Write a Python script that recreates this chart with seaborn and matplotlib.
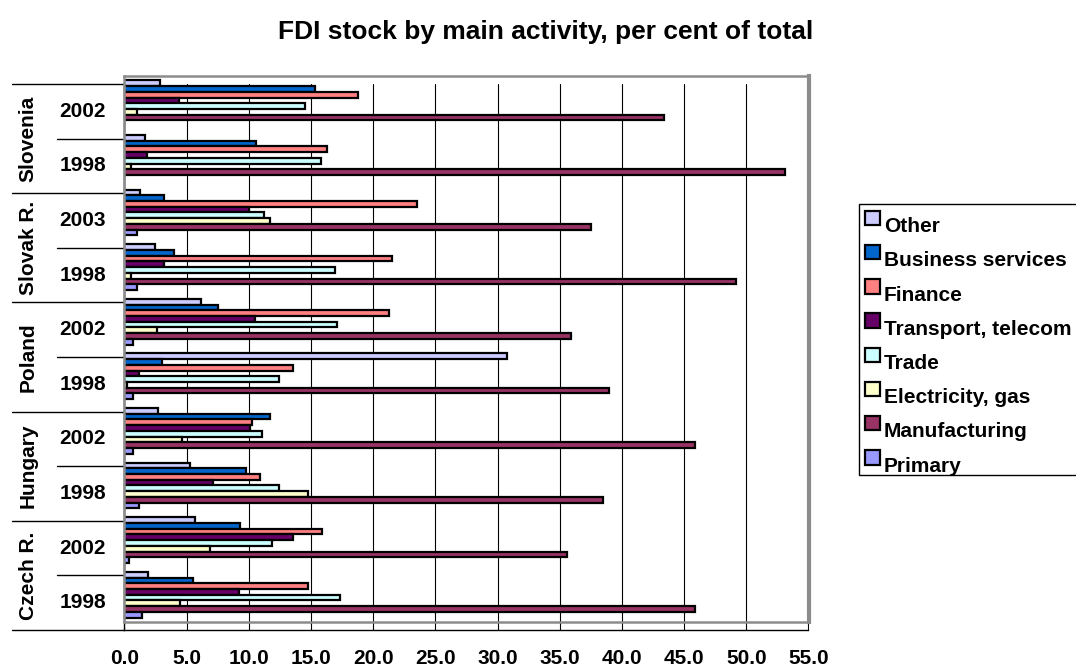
import numpy as np
import pandas as pd
import matplotlib
matplotlib.use("Agg")
import matplotlib.pyplot as plt
import seaborn as sns
from matplotlib.patches import Patch
from matplotlib.transforms import blended_transform_factory
from matplotlib.ticker import FormatStrFormatter

# ---------------- data ----------------
title = "FDI stock by main activity, per cent of total"
countries = ["Slovenia", "Slovak R.", "Poland", "Hungary", "Czech R."]
years = [["2002", "1998"], ["2003", "1998"], ["2002", "1998"], ["2002", "1998"], ["2002", "1998"]]
activities = ["Other", "Business services", "Finance", "Transport, telecom",
              "Trade", "Electricity, gas", "Manufacturing", "Primary"]
colors = ["#CCCCFF", "#0066CC", "#FF8080", "#660066",
          "#CCFFFF", "#FFFFCC", "#993366", "#9999FF"]

# values per group, top to bottom: Slo02, Slo98, Svk03, Svk98, Pol02, Pol98, Hun02, Hun98, Cze02, Cze98
other         = [2.9, 1.7, 1.3, 2.5, 6.2, 30.8, 2.7, 5.3, 5.7, 1.9]
business      = [15.3, 10.6, 3.2, 4.0, 7.5, 3.0, 11.7, 9.8, 9.3, 5.5]
finance       = [18.8, 16.3, 23.5, 21.5, 21.3, 13.6, 10.3, 10.9, 15.9, 14.8]
transport     = [4.4, 1.8, 10.0, 3.2, 10.5, 1.2, 10.1, 7.1, 13.6, 9.2]
trade         = [14.5, 15.8, 11.2, 16.9, 17.1, 12.4, 11.1, 12.4, 11.9, 17.3]
electricity   = [1.0, 0.5, 11.7, 0.5, 2.6, 0.2, 4.6, 14.8, 6.9, 4.5]
manufacturing = [43.4, 53.1, 37.5, 49.2, 35.9, 39.0, 45.9, 38.5, 35.6, 45.9]
primary       = [0.0, 0.0, 1.0, 1.0, 0.7, 0.7, 0.7, 1.2, 0.4, 1.4]
x_ticks = [0, 5, 10, 15, 20, 25, 30, 35, 40, 45, 50, 55]

series = [other, business, finance, transport, trade, electricity, manufacturing, primary]
groups = [f"{c} {y}" for c, ys in zip(countries, years) for y in ys]
rows = [(g, a, v) for a, vals in zip(activities, series) for g, v in zip(groups, vals)]
df = pd.DataFrame(rows, columns=["group", "activity", "value"])

# ---------------- style ----------------
sns.set_style("white")
plt.rcParams["font.family"] = ["Liberation Sans", "DejaVu Sans"]
plt.rcParams["font.weight"] = "bold"
plt.rcParams["text.color"] = "black"
plt.rcParams["xtick.color"] = "black"
plt.rcParams["ytick.color"] = "black"
plt.rcParams["axes.labelcolor"] = "black"

W, H = 1076, 670
fig = plt.figure(figsize=(W / 100, H / 100), dpi=100)
fig.patch.set_facecolor("white")

def fx(px):
    return px / W

def fy(py):
    return 1 - py / H

X0, X1 = 124.3, 808.5
# axis / grid layer (offset 8 px below the frame, as in the original)
ax2 = fig.add_axes([fx(X0), fy(630), (X1 - X0) / W, (630 - 84) / H])
ax2.set_zorder(0)
# bar layer with grey frame
ax = fig.add_axes([fx(X0), fy(622), (X1 - X0) / W, (622 - 76) / H], sharex=ax2)
ax.set_zorder(1)
ax.patch.set_alpha(0)

sns.barplot(data=df, x="value", y="group", hue="activity", order=groups,
            hue_order=activities, palette=colors, orient="h", width=0.84,
            edgecolor="black", linewidth=1.6, errorbar=None, saturation=1,
            legend=False, ax=ax)

ax.set_xlim(0, 55)
ax.set_ylim(len(groups) - 0.5, -0.5)
ax.set_xlabel("")
ax.set_ylabel("")
ax.tick_params(axis="both", which="both", left=False, bottom=False,
               labelleft=False, labelbottom=False)
for s in ax.spines.values():
    s.set_color("#8c8c8c")
    s.set_linewidth(1.8)
ax.spines["right"].set_linewidth(3)

# grid / x axis
ax2.set_ylim(len(groups) - 0.5, -0.5)
ax2.set_xticks(x_ticks)
ax2.xaxis.set_major_formatter(FormatStrFormatter("%.1f"))
ax2.tick_params(axis="x", direction="out", length=6, width=1, color="black",
                labelcolor="black", pad=8, labelsize=15)
ax2.set_yticks([])
ax2.grid(axis="x", color="black", linewidth=0.8)
ax2.spines["top"].set_visible(False)
ax2.spines["right"].set_visible(False)
for side in ("left", "bottom"):
    ax2.spines[side].set_color("black")
    ax2.spines[side].set_linewidth(1)
for lbl in ax2.get_xticklabels():
    lbl.set_fontweight("bold")

# two-level category labels on the left
trans = blended_transform_factory(fig.transFigure, ax2.transData)
for i, c in enumerate(countries):
    ax2.text(fx(28), 2 * i + 0.5, c, transform=trans, rotation=90,
             ha="center", va="center", fontsize=15, fontweight="bold", color="black")
    for j, y in enumerate(years[i]):
        ax2.text(fx(83), 2 * i + j, y, transform=trans, ha="center",
                 va="center", fontsize=15, fontweight="bold", color="black")
for k in range(len(countries) + 1):
    yy = 2 * k - 0.5
    ax2.plot([fx(12), fx(X0)], [yy, yy], transform=trans, color="black",
             lw=1, clip_on=False)
for k in range(len(countries)):
    yy = 2 * k + 0.5
    ax2.plot([fx(57), fx(X0)], [yy, yy], transform=trans, color="black",
             lw=1, clip_on=False)

# title
fig.text(fx(546), fy(32), title, ha="center", va="center",
         fontsize=19, fontweight="bold", color="black")

# legend
handles = [Patch(facecolor=c, edgecolor="black", linewidth=1.6) for c in colors]
leg = fig.legend(handles, activities, loc="upper left",
                 bbox_to_anchor=(fx(859), fy(204)), bbox_transform=fig.transFigure,
                 borderaxespad=0, frameon=True, fancybox=False, shadow=False,
                 framealpha=1, edgecolor="black", fontsize=15,
                 handlelength=0.7, handleheight=0.7, handletextpad=0.2,
                 labelspacing=0.73, borderpad=0.3)
leg.get_frame().set_linewidth(1)
for t in leg.get_texts():
    t.set_fontweight("bold")
    t.set_color("black")
    t.set_position((0, -7))

fig.savefig("out.png", dpi=100, facecolor="white")
